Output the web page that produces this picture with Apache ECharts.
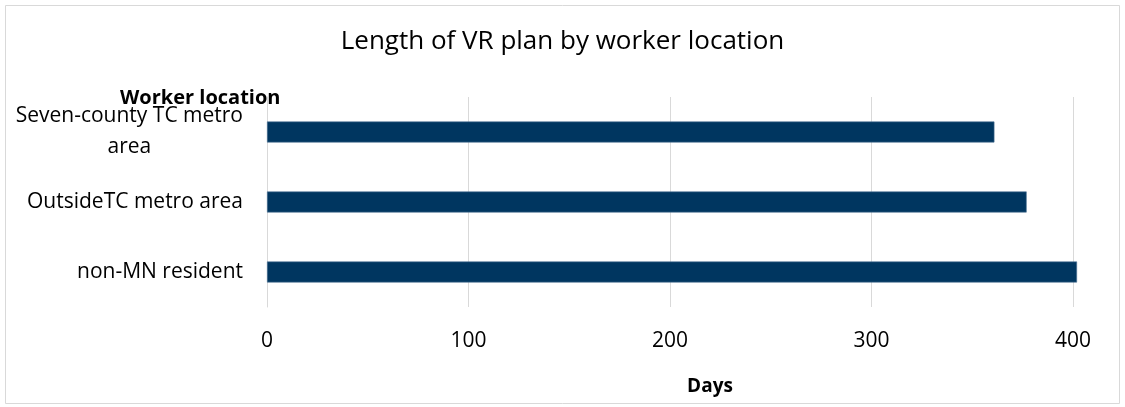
<!DOCTYPE html>
<html><head><meta charset="utf-8">
<script src="https://cdn.jsdelivr.net/npm/echarts@6/dist/echarts.min.js"></script>
<style>html,body{margin:0;padding:0;background:#fff}#c{width:1125px;height:407px}</style>
</head><body><div id="c"></div>
<script>
const categories = ['Seven-county TC metro area', 'OutsideTC metro area', 'non-MN resident'];
const days = [361, 377, 402];
const xTicks = [0, 100, 200, 300, 400];

const FONT = '"Open Sans", "Liberation Sans", sans-serif';
const chart = echarts.init(document.getElementById('c'));
chart.setOption({
  animation: false,
  backgroundColor: '#fff',
  textStyle: { fontFamily: FONT, color: '#000' },
  title: {
    text: 'Length of VR plan by worker location',
    left: 'center', top: 24,
    textStyle: { fontFamily: FONT, fontSize: 26, fontWeight: 'normal', color: '#000' }
  },
  graphic: [
    { type: 'rect', shape: { x: 5.5, y: 5.5, width: 1114, height: 398 }, style: { fill: 'none', stroke: '#d9d9d9', lineWidth: 1 }, silent: true },
    { type: 'text', left: 120, top: 88, style: { text: 'Worker location', font: 'bold 20px ' + FONT, fill: '#000' } }
  ],
  grid: { left: 267, right: 52, top: 97, bottom: 100, containLabel: false },
  xAxis: {
    type: 'value', min: xTicks[0], max: xTicks[xTicks.length - 1], interval: 100,
    name: 'Days', nameLocation: 'middle', nameGap: 70,
    nameTextStyle: { fontFamily: FONT, fontSize: 19, fontWeight: 'bold', color: '#000', padding: [0, 0, 0, 80] },
    axisLine: { show: false }, axisTick: { show: false },
    axisLabel: { fontFamily: FONT, fontSize: 21, color: '#000', margin: 24 },
    splitLine: { show: true, lineStyle: { color: '#d9d9d9', width: 1 } }
  },
  yAxis: {
    type: 'category', data: categories, inverse: true,
    axisLine: { show: true, lineStyle: { color: '#d9d9d9' } },
    axisTick: { show: false },
    axisLabel: {
      margin: 24, fontFamily: FONT, fontSize: 21, color: '#000',
      formatter: function (v) {
        if (v === categories[0]) return '{c|Seven-county TC metro}\n{c|area}';
        return '{c|' + v + '}';
      },
      rich: { c: { fontFamily: FONT, fontSize: 21, color: '#000', align: 'center', lineHeight: 31 } }
    }
  },
  series: [{
    type: 'bar', data: days, barWidth: 21, clip: false,
    itemStyle: { color: '#003660', borderColor: '#4f7396', borderWidth: 0.6 }
  }]
});
</script></body></html>
